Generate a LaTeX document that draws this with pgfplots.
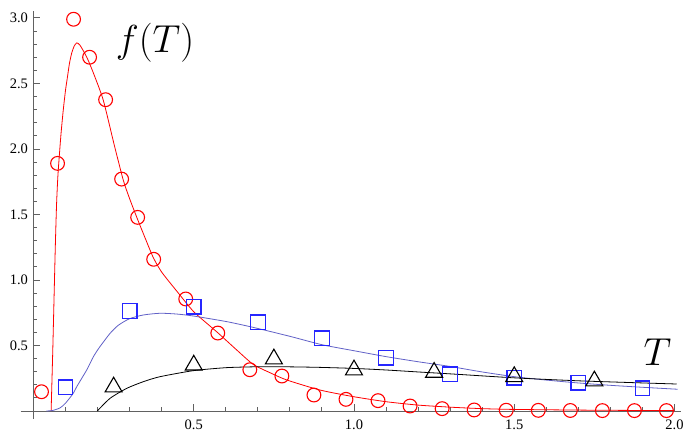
\RequirePackage{fix-cm}
\documentclass[border=0pt]{standalone}
\usepackage{pgfplots}
\pgfplotsset{compat=1.18}
\usepackage{fontspec}
\setmainfont{Liberation Serif}
\definecolor{mred}{rgb}{1,0,0}
\definecolor{mblue}{rgb}{0.15,0.15,1}
\definecolor{lblue}{rgb}{0.38,0.38,0.78}
\definecolor{axgray}{rgb}{0.38,0.38,0.38}
\begin{document}
\begin{tikzpicture}
\begin{axis}[
  scale only axis, width=647.4bp, height=399.6bp,
  xmin=0, xmax=2.02, ymin=0, ymax=3.05,
  axis lines=left,
  axis line style={-, draw=axgray, line width=0.9bp},
  xtick={0.5,1,1.5,2}, ytick={0.5,1,1.5,2,2.5,3},
  major tick length=0pt, minor tick length=0pt,
  /pgf/number format/assume math mode=true,
  /pgf/number format/.cd, fixed, fixed zerofill, precision=1, /pgfplots/.cd,
  ticklabel style={font=\fontsize{14.5bp}{17bp}\selectfont, text=black},
  xticklabel style={yshift=-5bp},
  yticklabel style={xshift=-2bp},
  clip=false,
]
\draw[axgray, line width=0.9bp] (axis cs:-0.04,0) -- (axis cs:0,0);
\draw[axgray, line width=0.9bp] (axis cs:0,-0.06) -- (axis cs:0,0);
\pgfplotsinvokeforeach{0.1,0.2,0.3,0.4,0.6,0.7,0.8,0.9,1.1,1.2,1.3,1.4,1.6,1.7,1.8,1.9}{
  \draw[axgray, line width=0.9bp] (axis cs:#1,0) -- ++(0pt,4bp);
}
\pgfplotsinvokeforeach{0.5,1,1.5,2}{
  \draw[axgray, line width=0.9bp] (axis cs:#1,0) -- ++(0pt,7bp);
}
\pgfplotsinvokeforeach{0.1,0.2,0.3,0.4,0.6,0.7,0.8,0.9,1.1,1.2,1.3,1.4,1.6,1.7,1.8,1.9,2.1,2.2,2.3,2.4,2.6,2.7,2.8,2.9}{
  \draw[axgray, line width=0.9bp] (axis cs:0,#1) -- ++(4bp,0pt);
}
\pgfplotsinvokeforeach{0.5,1,1.5,2,2.5,3}{
  \draw[axgray, line width=0.9bp] (axis cs:0,#1) -- ++(7bp,0pt);
}
% red curve
\addplot[mred, line width=0.8bp, smooth, tension=0.4] coordinates {
(0.055,0) (0.060,0.45) (0.064,0.85) (0.068,1.25) (0.072,1.58) (0.076,1.79) (0.080,1.93)
(0.086,2.12) (0.093,2.30) (0.100,2.45) (0.106,2.55) (0.112,2.65) (0.119,2.73) (0.127,2.785)
(0.135,2.81) (0.144,2.795) (0.153,2.76) (0.162,2.72) (0.171,2.675) (0.190,2.56) (0.218,2.37)
(0.251,2.04) (0.280,1.763) (0.300,1.62) (0.322,1.48) (0.350,1.31) (0.374,1.17) (0.400,1.06)
(0.447,0.915) (0.499,0.76) (0.550,0.65) (0.577,0.593) (0.634,0.466) (0.686,0.355) (0.740,0.29)
(0.790,0.237) (0.894,0.16) (0.997,0.11) (1.100,0.071) (1.200,0.045) (1.310,0.028) (1.400,0.018)
(1.500,0.012) (1.750,0.006) (2.000,0.003)
};
% blue curve
\addplot[lblue, line width=0.8bp, smooth, tension=0.4] coordinates {
(0.040,0) (0.060,0.004) (0.083,0.024) (0.100,0.06) (0.124,0.135) (0.135,0.186) (0.166,0.313)
(0.187,0.415) (0.207,0.49) (0.239,0.593) (0.265,0.655) (0.300,0.705) (0.343,0.733) (0.395,0.746)
(0.447,0.740) (0.499,0.725) (0.603,0.682) (0.686,0.638) (0.800,0.57) (0.900,0.506) (1.000,0.46)
(1.100,0.415) (1.200,0.376) (1.300,0.34) (1.400,0.298) (1.500,0.262) (1.600,0.236) (1.700,0.214)
(1.800,0.196) (1.900,0.181) (2.010,0.166)
};
% black curve
\addplot[black, line width=0.8bp, smooth, tension=0.4] coordinates {
(0.199,0) (0.239,0.097) (0.291,0.173) (0.343,0.224) (0.395,0.262) (0.499,0.308) (0.603,0.331)
(0.707,0.338) (0.800,0.337) (0.894,0.333) (1.000,0.325) (1.100,0.313) (1.200,0.298) (1.310,0.282)
(1.508,0.252) (1.716,0.229) (2.007,0.206)
};
% red circles
\addplot[only marks, mred, line width=1.1bp, mark=o, mark size=6.9bp, mark options={solid, draw=mred}] coordinates {
(0.025,0.147) (0.075,1.89) (0.125,2.99) (0.175,2.70) (0.225,2.376) (0.275,1.77) (0.325,1.478)
(0.375,1.158) (0.475,0.855) (0.575,0.595) (0.675,0.315) (0.775,0.267) (0.875,0.122) (0.975,0.089)
(1.075,0.079) (1.175,0.038) (1.275,0.018) (1.375,0.008) (1.475,0.006) (1.575,0.005) (1.675,0.004)
(1.775,0.003) (1.875,0.003) (1.975,0.003)
};
% blue squares
\addplot[only marks, mblue, line width=1.2bp, mark=square, mark size=7.3bp, mark options={solid, draw=mblue}] coordinates {
(0.1,0.181) (0.3,0.762) (0.5,0.796) (0.7,0.677) (0.9,0.555) (1.1,0.407) (1.3,0.28) (1.5,0.254)
(1.7,0.216) (1.9,0.173)
};
% black triangles
\addplot[only marks, black, line width=1.1bp, mark=triangle, mark size=9.8bp, mark options={solid, draw=black}] coordinates {
(0.25,0.183) (0.5,0.35) (0.75,0.397) (1.0,0.313) (1.25,0.295) (1.5,0.262) (1.75,0.229)
};
\node[anchor=base, inner sep=0pt, font=\fontsize{39bp}{42bp}\selectfont] at (axis cs:0.379,2.74) {$f(T)$};
\node[anchor=base, inner sep=0pt, font=\fontsize{39bp}{42bp}\selectfont] at (axis cs:1.947,0.351) {$T$};
\coordinate (o) at (axis cs:0,0);
\end{axis}
\pgfresetboundingbox
\path (o) ++(-33.5bp,-26bp) rectangle ++(687bp,437bp);
\end{tikzpicture}
\end{document}
